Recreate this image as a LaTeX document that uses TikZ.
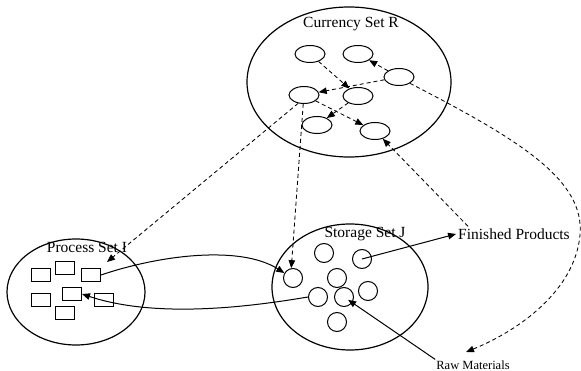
\documentclass[tikz,border=0pt]{standalone}
\usepackage{fontspec}
\setmainfont{Liberation Serif}
\usepackage{tikz}
\usetikzlibrary{arrows.meta,positioning,shapes.geometric}
\tikzset{
  setell/.style={draw, ellipse, line width=1.2pt, inner sep=0pt},
  curell/.style={draw, ellipse, line width=1pt, inner sep=0pt, minimum width=30pt, minimum height=17pt},
  stc/.style={draw, circle, line width=1pt, inner sep=0pt, minimum size=19pt},
  prc/.style={draw, line width=1pt, inner sep=0pt, minimum width=19pt, minimum height=13pt},
  ar/.style={-{Triangle[length=8pt, width=6.5pt]}, line width=1pt},
  dar/.style={ar, line width=.85pt, dash pattern=on 4pt off 3pt},
  lbl/.style={font=\fontsize{15.5}{18}\selectfont, inner sep=1pt},
}
\begin{document}
\begin{tikzpicture}[x=1pt, y=-1pt]
        \useasboundingbox (0,0) rectangle (581,371);
        % the three sets
        \node[setell, minimum width=204pt, minimum height=150pt] (cur) at (349,82) {};
        \node[setell, minimum width=138pt, minimum height=106pt] (proc) at (76,292) {};
        \node[setell, minimum width=156pt, minimum height=126pt] (stor) at (350,287) {};
        \node[lbl] (curlbl) at (351,24) {Currency Set R};
        \node[lbl] (proclbl) at (87,247) {Process Set I};
        \node[lbl] (storlbl) at (365,234) {Storage Set J};
        \node[lbl, inner sep=2pt] (fp) at (514,234) {Finished Products};
        \node[font=\fontsize{12.5}{14}\selectfont, inner sep=1pt] (rm) at (473,365) {Raw Materials};
        % currency elements
        \node[curell] (ca) at (310,54) {};
        \node[curell] (cb) at (358,54) {};
        \node[curell] (cc) at (399,77) {};
        \node[curell] (cd) at (304,95) {};
        \node[curell] (ce) at (358,96) {};
        \node[curell] (cf) at (317,125) {};
        \node[curell] (cg) at (375,131) {};
        % process units
        \node[prc] (p1) at (41,275) {};
        \node[prc] (p2) at (65,268) {};
        \node[prc] (p3) at (91,275) {};
        \node[prc] (p4) at (41,300) {};
        \node[prc] (p5) at (72,294) {};
        \node[prc] (p6) at (104,300) {};
        \node[prc] (p7) at (65,313) {};
        % storage tanks
        \node[stc] (s1) at (324,253) {};
        \node[stc] (s2) at (362,259) {};
        \node[stc] (s3) at (293,278) {};
        \node[stc] (s4) at (337,278) {};
        \node[stc] (s5) at (368,291) {};
        \node[stc] (s6) at (318,297) {};
        \node[stc] (s7) at (344,297) {};
        \node[stc] (s8) at (337,322) {};
        \coordinate (ptip) at (107,262);
        \coordinate (rmtip) at (466,352);
        % dashed links of the currency set
        \draw[dar] (ca) -- (ce);
        \draw[dar] (cc) -- (cb);
        \draw[dar] (cc) -- (cd);
        \draw[dar] (ce) -- (cf);
        \draw[dar] (cd) -- (cg);
        \draw[dar] (cd.-125) -- (ptip);
        \draw[dar] (cd.-95) -- (s3.100);
        \draw[dar] ([xshift=12pt]fp.north west) -- (cg.-45);
        \draw[dar] (cc.-30) .. controls (520,140) and (585,180) .. (580,235) .. controls (575,290) and (520,330) .. (rmtip);
        % material flows
        \draw[ar] (p3.east) .. controls (160,255) and (240,245) .. (s3.150);
        \draw[ar] (s6.west) .. controls (260,305) and (160,320) .. (p5.east);
        \draw[ar] (s2.center) -- (fp.west);
        \draw[ar, shorten >=5pt] (rm.north west) -- (s7.center);
      \end{tikzpicture}
\end{document}
